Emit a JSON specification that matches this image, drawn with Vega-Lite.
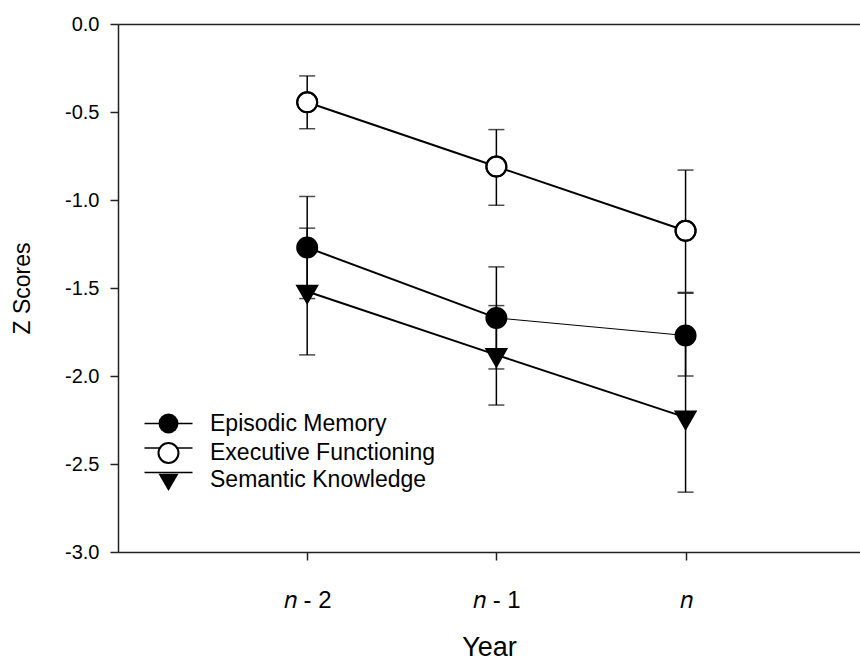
{
  "$schema": "https://vega.github.io/schema/vega-lite/v6.json",
  "autosize": {"type": "none"},
  "padding": {"left": 118, "top": 24, "right": 0, "bottom": 111},
  "width": 742,
  "height": 528,
  "background": "white",
  "config": {
    "view": {"stroke": null},
    "font": "Liberation Sans",
    "axis": {"grid": false, "domainColor": "#222", "tickColor": "#222", "domainWidth": 1.5, "tickWidth": 1.5, "labelColor": "black", "titleColor": "black", "labelFont": "Liberation Sans", "titleFont": "Liberation Sans", "titleFontWeight": "normal"}
  },
  "data": {
    "values": [
      {"series": "Episodic Memory", "year": 1, "mean": -1.27, "lo": -1.56, "hi": -0.98},
      {"series": "Episodic Memory", "year": 2, "mean": -1.67, "lo": -1.96, "hi": -1.38},
      {"series": "Episodic Memory", "year": 3, "mean": -1.77, "lo": -2.0, "hi": -1.53},
      {"series": "Executive Functioning", "year": 1, "mean": -0.445, "lo": -0.595, "hi": -0.295},
      {"series": "Executive Functioning", "year": 2, "mean": -0.81, "lo": -1.03, "hi": -0.6},
      {"series": "Executive Functioning", "year": 3, "mean": -1.175, "lo": -1.525, "hi": -0.83},
      {"series": "Semantic Knowledge", "year": 1, "mean": -1.52, "lo": -1.88, "hi": -1.16},
      {"series": "Semantic Knowledge", "year": 2, "mean": -1.88, "lo": -2.165, "hi": -1.6},
      {"series": "Semantic Knowledge", "year": 3, "mean": -2.235, "lo": -2.66, "hi": -1.81}
    ]
  },
  "resolve": {"axis": {"x": "independent"}, "scale": {"stroke": "independent"}},
  "layer": [
    {
      "mark": {"type": "rule", "color": "black", "strokeWidth": 1.5},
      "encoding": {
        "x": {"field": "year", "type": "quantitative", "scale": {"domain": [0, 3.922], "nice": false, "zero": false},
          "axis": {"orient": "bottom", "values": [1, 2, 3], "tickSize": 8, "labelFontSize": 24, "labelPadding": 28,
            "labelExpr": "datum.value == 3 ? '𝑛' : '𝑛 - ' + (3 - datum.value)",
            "title": "Year", "titleFontSize": 27, "titlePadding": 22}},
        "y": {"field": "lo", "type": "quantitative", "scale": {"domain": [-3, 0], "nice": false, "zero": false},
          "axis": {"values": [-3, -2.5, -2, -1.5, -1, -0.5, 0], "tickSize": 8, "labelFontSize": 20, "labelPadding": 11,
            "labelExpr": "(datum.value < 0 ? '-' : '') + format(abs(datum.value), '.1f')",
            "title": "Z Scores", "titleFontSize": 23, "titlePadding": 30}},
        "y2": {"field": "hi"}
      }
    },
    {
      "mark": {"type": "tick", "orient": "horizontal", "color": "black", "size": 16, "thickness": 1.5},
      "encoding": {
        "x": {"field": "year", "type": "quantitative", "axis": {"orient": "top", "labels": false, "ticks": false, "title": null, "domain": true}},
        "y": {"field": "lo", "type": "quantitative"}
      }
    },
    {
      "mark": {"type": "tick", "orient": "horizontal", "color": "black", "size": 16, "thickness": 1.5},
      "encoding": {
        "x": {"field": "year", "type": "quantitative", "axis": null},
        "y": {"field": "hi", "type": "quantitative"}
      }
    },
    {
      "transform": [
        {"window": [{"op": "lead", "field": "year", "as": "next_year"}, {"op": "lead", "field": "mean", "as": "next_mean"}], "groupby": ["series"], "sort": [{"field": "year"}]},
        {"filter": "datum.next_year != null"}
      ],
      "mark": {"type": "rule"},
      "encoding": {
        "x": {"field": "year", "type": "quantitative", "axis": null},
        "x2": {"field": "next_year"},
        "y": {"field": "mean", "type": "quantitative"},
        "y2": {"field": "next_mean"},
        "stroke": {"field": "series", "type": "nominal",
          "scale": {"range": ["black", "black", "black"]},
          "legend": {
            "orient": "none", "legendX": 39, "legendY": 388, "title": null, "zindex": 0,
            "symbolType": "M-2.4,0H2.4", "symbolSize": 400, "symbolStrokeWidth": 1.5,
            "labelFontSize": 23, "labelFont": "Liberation Sans", "labelOpacity": 0, "labelOffset": 30, "labelLimit": 500, "rowPadding": 0.5}},
        "strokeWidth": {"condition": {"test": "datum.series === 'Episodic Memory' && datum.year === 2", "value": 1}, "value": 2}
      }
    },
    {
      "mark": {"type": "point", "filled": true, "size": 400, "stroke": "black", "strokeWidth": 2, "opacity": 1},
      "encoding": {
        "x": {"field": "year", "type": "quantitative", "axis": null},
        "y": {"field": "mean", "type": "quantitative"},
        "shape": {"field": "series", "type": "nominal",
          "scale": {"range": ["circle", "circle", "M-1,-0.577L1,-0.577L0,1.155Z"]},
          "legend": {
            "orient": "none", "legendX": 39, "legendY": 388, "title": null, "zindex": 1,
            "symbolSize": 400, "symbolStrokeColor": "black", "symbolStrokeWidth": 2, "symbolOpacity": 1,
            "labelFontSize": 23, "labelFont": "Liberation Sans", "labelColor": "black", "labelOffset": 30, "labelLimit": 500, "rowPadding": 0.5}},
        "fill": {"field": "series", "type": "nominal",
          "scale": {"range": ["black", "white", "black"]},
          "legend": {
            "orient": "none", "legendX": 39, "legendY": 388, "title": null, "zindex": 1,
            "symbolSize": 400, "symbolStrokeColor": "black", "symbolStrokeWidth": 2, "symbolOpacity": 1,
            "labelFontSize": 23, "labelFont": "Liberation Sans", "labelColor": "black", "labelOffset": 30, "labelLimit": 500, "rowPadding": 0.5}}
      }
    },
    {
      "mark": {"type": "point", "shape": "circle", "filled": false, "size": 400, "strokeWidth": 2, "opacity": 1},
      "encoding": {
        "x": {"field": "year", "type": "quantitative", "axis": null},
        "y": {"field": "mean", "type": "quantitative"},
        "stroke": {"field": "series", "type": "nominal",
          "scale": {"domain": ["Episodic Memory", "Executive Functioning", "Semantic Knowledge"], "range": ["transparent", "black", "transparent"]},
          "legend": {
            "orient": "none", "legendX": 39, "legendY": 388, "title": null, "zindex": 2,
            "symbolType": "circle", "symbolSize": 400, "symbolStrokeWidth": 2, "symbolFillColor": "transparent", "symbolOpacity": 1,
            "labelFontSize": 23, "labelFont": "Liberation Sans", "labelOpacity": 0, "labelOffset": 30, "labelLimit": 500, "rowPadding": 0.5}}
      }
    }
  ]
}
